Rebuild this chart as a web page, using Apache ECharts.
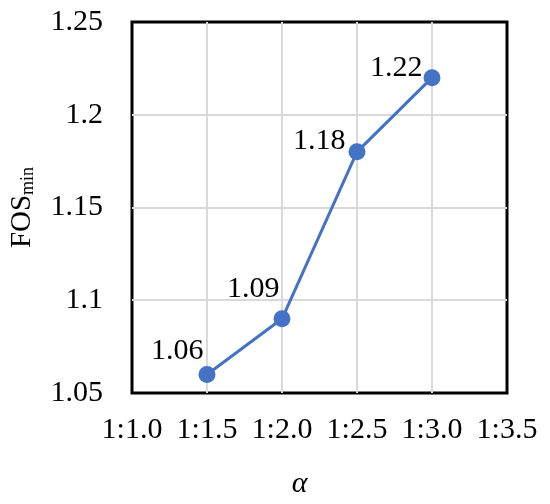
<!DOCTYPE html>
<html>
<head>
<meta charset="utf-8">
<script src="https://cdn.jsdelivr.net/npm/echarts@6/dist/echarts.min.js"></script>
<style>
  html, body { margin: 0; padding: 0; background: #fff; }
  #chart { width: 550px; height: 504px; }
</style>
</head>
<body>
<div id="chart"></div>
<script>
// data
const ratios = [1.5, 2.0, 2.5, 3.0]; // α = 1:x
const fosMin = [1.06, 1.09, 1.18, 1.22];
const xTicks = [1.0, 1.5, 2.0, 2.5, 3.0, 3.5];
const yTicks = [1.05, 1.1, 1.15, 1.2, 1.25];

// label placement per point (style only)
const labelOffsets = [[5, -23], [6, -30], [-3, -11], [-1, -10]];

const FONT = '"Liberation Serif", "Times New Roman", serif';

const chart = echarts.init(document.getElementById("chart"));

const seriesData = ratios.map((x, i) => ({
  value: [x, fosMin[i]],
  label: { offset: labelOffsets[i] },
}));

chart.setOption({
  animation: false,
  textStyle: { fontFamily: FONT, color: "#000" },
  grid: {
    left: 128,
    right: 43,
    top: 22,
    bottom: 108,
    show: true,
    borderColor: "#000",
    borderWidth: 3,
  },
  xAxis: {
    type: "value",
    min: xTicks[0],
    max: xTicks[xTicks.length - 1],
    interval: 0.5,
    name: "α",
    nameLocation: "middle",
    nameGap: 76,
    nameTextStyle: {
      fontFamily: FONT,
      fontStyle: "italic",
      fontSize: 30,
      color: "#000",
      padding: [0, 40, 0, 0],
    },
    axisLine: { show: false },
    axisTick: { show: false },
    axisLabel: {
      margin: 22,
      fontSize: 30,
      fontFamily: FONT,
      color: "#000",
      formatter: (v) => "1:" + v.toFixed(1),
    },
    splitLine: {
      showMinLine: false,
      showMaxLine: false,
      lineStyle: { color: "#D9D9D9", width: 2 },
    },
  },
  yAxis: {
    type: "value",
    min: yTicks[0],
    max: yTicks[yTicks.length - 1],
    interval: 0.05,
    name: "{a|FOS}{b|min}",
    nameLocation: "middle",
    nameGap: 95,
    nameTextStyle: {
      fontFamily: FONT,
      color: "#000",
      rich: {
        a: { fontSize: 29, fontFamily: FONT, color: "#000", verticalAlign: "bottom", lineHeight: 30 },
        b: { fontSize: 18, fontFamily: FONT, color: "#000", verticalAlign: "bottom", lineHeight: 30 },
      },
    },
    axisLine: { show: false },
    axisTick: { show: false },
    axisLabel: {
      margin: 29,
      fontSize: 30,
      fontFamily: FONT,
      color: "#000",
      formatter: (v) => String(parseFloat(v.toFixed(2))),
    },
    splitLine: {
      showMinLine: false,
      showMaxLine: false,
      lineStyle: { color: "#D9D9D9", width: 2 },
    },
  },
  series: [
    {
      type: "line",
      data: seriesData,
      symbol: "circle",
      symbolSize: 17,
      lineStyle: { color: "#4472C4", width: 3 },
      itemStyle: { color: "#4472C4" },
      label: {
        show: true,
        position: "left",
        distance: 0,
        fontSize: 30,
        fontFamily: FONT,
        color: "#000",
        formatter: (p) => p.value[1].toFixed(2),
      },
    },
  ],
});
</script>
</body>
</html>
